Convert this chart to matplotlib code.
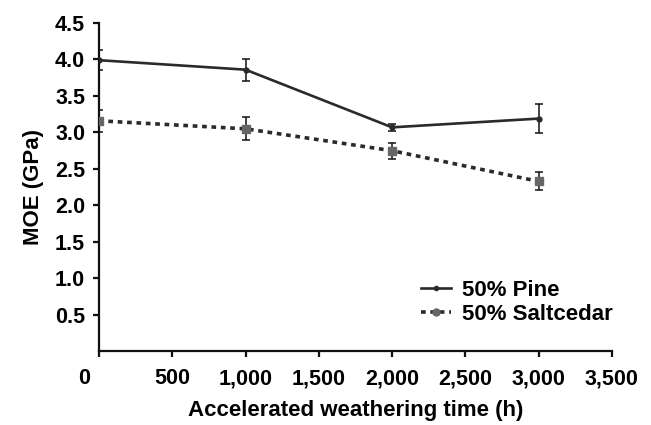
import matplotlib
matplotlib.use("Agg")
import matplotlib.pyplot as plt
import matplotlib.transforms as mtransforms
from matplotlib.lines import Line2D

plt.rcParams['font.family'] = ['Liberation Sans', 'DejaVu Sans']
plt.rcParams['font.weight'] = 'bold'

hours = [0, 1000, 2000, 3000]
pine = [3.99, 3.86, 3.07, 3.19]
pine_err = [0.14, 0.15, 0.05, 0.20]
salt = [3.16, 3.05, 2.75, 2.33]
salt_err = [0.15, 0.16, 0.11, 0.125]

xticks = [0, 500, 1000, 1500, 2000, 2500, 3000, 3500]
xticklabels = ['0', '500', '1,000', '1,500', '2,000', '2,500', '3,000', '3,500']
yticks = [0.5, 1.0, 1.5, 2.0, 2.5, 3.0, 3.5, 4.0, 4.5]
yticklabels = ['0.5', '1.0', '1.5', '2.0', '2.5', '3.0', '3.5', '4.0', '4.5']

dark = '#2a2a2a'
grey = '#666666'
FS = 15.5

fig = plt.figure(figsize=(6.51, 4.25), dpi=100)
ax = fig.add_axes([0.152, 0.173, 0.788, 0.773])

ax.errorbar(hours, pine, yerr=pine_err, color=dark, lw=1.9, marker='o',
            ms=3.5, mfc=dark, mec=dark, ecolor='#111111', elinewidth=1.1,
            capsize=2.7, capthick=1.1, zorder=3)
ax.errorbar(hours, salt, yerr=salt_err, color=dark, lw=2.6, linestyle=(0, (1.3, 1.3)),
            marker='s', ms=5.5, mfc=grey, mec=grey, ecolor='#111111',
            elinewidth=1.1, capsize=2.7, capthick=1.1, zorder=3)

h1 = Line2D([], [], color=dark, lw=1.9, marker='o', ms=3, mfc=dark, mec=dark)
h2 = Line2D([], [], color=dark, lw=2.6, linestyle=(0, (1.3, 1.3)), marker='o',
            ms=5, mfc=grey, mec=grey)

ax.set_xlim(0, 3500)
ax.set_ylim(0, 4.5)
ax.set_xticks(xticks)
ax.set_xticklabels(xticklabels, fontsize=FS, fontweight='bold')
ax.set_yticks(yticks)
ax.set_yticklabels(yticklabels, fontsize=FS, fontweight='bold')

for s in ['top', 'right']:
    ax.spines[s].set_visible(False)
for s in ['left', 'bottom']:
    ax.spines[s].set_linewidth(1.6)
    ax.spines[s].set_color('#111111')
ax.tick_params(axis='y', direction='out', length=4, width=1.6, color='#111111', pad=6)
ax.tick_params(axis='x', direction='out', length=4, width=1.6, color='#111111', pad=8)

# shift the '0' label left as in reference
lbl0 = ax.get_xticklabels()[0]
lbl0.set_transform(lbl0.get_transform() + mtransforms.ScaledTranslation(-15/100, 0, fig.dpi_scale_trans))

ax.set_xlabel('Accelerated weathering time (h)', fontsize=16, fontweight='bold', labelpad=8)
ax.set_ylabel('MOE (GPa)', fontsize=16, fontweight='bold', labelpad=8)

ax.legend([h1, h2], ['50% Pine', '50% Saltcedar'], loc='lower right',
          bbox_to_anchor=(1.04, 0.02), frameon=False, handlelength=1.35,
          handletextpad=0.5, labelspacing=0.15,
          prop={'weight': 'bold', 'size': 16})

fig.savefig('out.png', dpi=100)
